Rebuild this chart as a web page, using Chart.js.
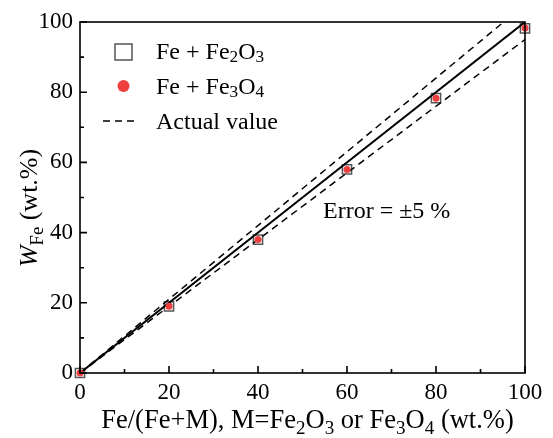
<!DOCTYPE html>
<html lang="en">
  <head>
    <meta charset="UTF-8" />
    <title>Fe content</title>
    <style>
      body {
        margin: 0;
        background: #fff;
      }
    </style>
    <script src="https://cdn.jsdelivr.net/npm/chart.js"></script>
  </head>
  <body>
    <canvas id="chart" width="553" height="438"></canvas>
    <script>
      // measured points
      const xVals = [0, 20, 40, 60, 80, 100];
      const fe2o3 = [0, 19, 38, 58, 78.3, 98.2];
      const fe3o4 = [0, 19, 38, 58, 78.3, 98.3];
      // reference lines: actual value and +/-5 % bounds
      const actualX = [0, 100];
      const actualY = [0, 100];
      const upperX = [0, 95.2];
      const upperY = [0, 100];
      const lowerX = [0, 100];
      const lowerY = [0, 95];
      const tickVals = [0, 20, 40, 60, 80, 100];

      const serif = '"Liberation Serif", "Times New Roman", serif';
      const red = "#ef3e3e";
      const grey = "#555555";

      function pts(xs, ys) {
        return xs.map((x, i) => ({ x: x, y: ys[i] }));
      }

      function richWidth(ctx, parts, size) {
        let w = 0;
        parts.forEach(([t, k]) => {
          const fs = k === "s" ? size * 0.72 : size;
          ctx.font = (k === "i" ? "italic " : "") + fs + "px " + serif;
          w += ctx.measureText(t).width;
        });
        return w;
      }

      function drawRich(ctx, parts, x, y, size, subDrop) {
        let cx = x;
        parts.forEach(([t, k]) => {
          const fs = k === "s" ? size * 0.72 : size;
          ctx.font = (k === "i" ? "italic " : "") + fs + "px " + serif;
          ctx.fillText(t, cx, y + (k === "s" ? subDrop : 0));
          cx += ctx.measureText(t).width;
        });
      }

      const decorations = {
        id: "decorations",
        afterDraw(chart) {
          const ctx = chart.ctx;
          const a = chart.chartArea;
          const xs = chart.scales.x;
          const ys = chart.scales.y;
          ctx.save();
          ctx.strokeStyle = "#000";
          ctx.lineWidth = 1.6;
          ctx.strokeRect(a.left, a.top, a.right - a.left, a.bottom - a.top);

          // inward ticks on bottom and left axes
          ctx.beginPath();
          for (let v = 0; v <= 100; v += 10) {
            const len = v % 20 === 0 ? 7 : 4;
            const px = xs.getPixelForValue(v);
            ctx.moveTo(px, a.bottom);
            ctx.lineTo(px, a.bottom - len);
            const py = ys.getPixelForValue(v);
            ctx.moveTo(a.left, py);
            ctx.lineTo(a.left + len, py);
          }
          ctx.stroke();

          ctx.fillStyle = "#000";
          ctx.textBaseline = "alphabetic";
          ctx.textAlign = "left";

          // legend
          ctx.strokeStyle = grey;
          ctx.lineWidth = 1.5;
          ctx.strokeRect(115, 44, 17, 16);
          ctx.fillStyle = red;
          ctx.beginPath();
          ctx.arc(123.5, 86, 6, 0, Math.PI * 2);
          ctx.fill();
          ctx.strokeStyle = "#000";
          ctx.setLineDash([7, 5]);
          ctx.beginPath();
          ctx.moveTo(103, 121);
          ctx.lineTo(139, 121);
          ctx.stroke();
          ctx.setLineDash([]);

          ctx.fillStyle = "#000";
          drawRich(ctx, [["Fe + Fe", ""], ["2", "s"], ["O", ""], ["3", "s"]], 156, 59, 24, 3);
          drawRich(ctx, [["Fe + Fe", ""], ["3", "s"], ["O", ""], ["4", "s"]], 156, 94, 24, 3);
          drawRich(ctx, [["Actual value", ""]], 156, 129, 24, 0);

          // annotation
          drawRich(ctx, [["Error = \u00b15 %", ""]], 323, 218, 24, 0);

          // x title
          const xt = [
            ["Fe/(Fe+M), M=Fe", ""], ["2", "s"], ["O", ""], ["3", "s"],
            [" or Fe", ""], ["3", "s"], ["O", ""], ["4", "s"], [" (wt.%)", ""],
          ];
          const xw = richWidth(ctx, xt, 26.5);
          drawRich(ctx, xt, 307.5 - xw / 2, 428, 26.5, 6);

          // y title
          const yt = [["W", "i"], ["Fe", "s"], [" (wt.%)", ""]];
          const yw = richWidth(ctx, yt, 26);
          ctx.translate(37, 208);
          ctx.rotate(-Math.PI / 2);
          drawRich(ctx, yt, -yw / 2, 0, 26, 6);
          ctx.restore();
        },
      };

      new Chart(document.getElementById("chart").getContext("2d"), {
        type: "scatter",
        data: {
          datasets: [
            {
              label: "Actual value",
              type: "line",
              data: pts(actualX, actualY),
              borderColor: "#000",
              borderWidth: 2,
              pointRadius: 0,
              fill: false,
              order: 1,
            },
            {
              label: "+5 %",
              type: "line",
              data: pts(upperX, upperY),
              borderColor: "#000",
              borderWidth: 1.5,
              borderDash: [7, 5],
              pointRadius: 0,
              fill: false,
              order: 1,
            },
            {
              label: "-5 %",
              type: "line",
              data: pts(lowerX, lowerY),
              borderColor: "#000",
              borderWidth: 1.5,
              borderDash: [7, 5],
              pointRadius: 0,
              fill: false,
              order: 1,
            },
            {
              label: "Fe + Fe2O3",
              data: pts(xVals, fe2o3),
              pointStyle: "rect",
              pointRadius: 6.5,
              backgroundColor: "rgba(0,0,0,0)",
              borderColor: grey,
              borderWidth: 1.5,
              clip: false,
              order: 3,
            },
            {
              label: "Fe + Fe3O4",
              data: pts(xVals, fe3o4),
              pointStyle: "circle",
              pointRadius: 3.5,
              backgroundColor: red,
              borderColor: red,
              borderWidth: 0,
              clip: false,
              order: 0,
            },
          ],
        },
        options: {
          responsive: false,
          animation: false,
          layout: { padding: { top: 22, right: 28, left: 0, bottom: 0 } },
          plugins: { legend: { display: false }, tooltip: { enabled: false } },
          scales: {
            x: {
              type: "linear",
              min: 0,
              max: 100,
              afterFit: (s) => { s.height = 65; },
              afterBuildTicks: (s) => { s.ticks = tickVals.map((v) => ({ value: v })); },
              grid: { display: false, drawTicks: false },
              border: { display: false },
              ticks: { color: "#000", padding: 6, font: { family: serif, size: 23 } },
            },
            y: {
              type: "linear",
              min: 0,
              max: 100,
              afterFit: (s) => { s.width = 80; },
              afterBuildTicks: (s) => { s.ticks = tickVals.map((v) => ({ value: v })); },
              grid: { display: false, drawTicks: false },
              border: { display: false },
              ticks: { color: "#000", padding: 7, font: { family: serif, size: 23 } },
            },
          },
        },
        plugins: [decorations],
      });
    </script>
  </body>
</html>
